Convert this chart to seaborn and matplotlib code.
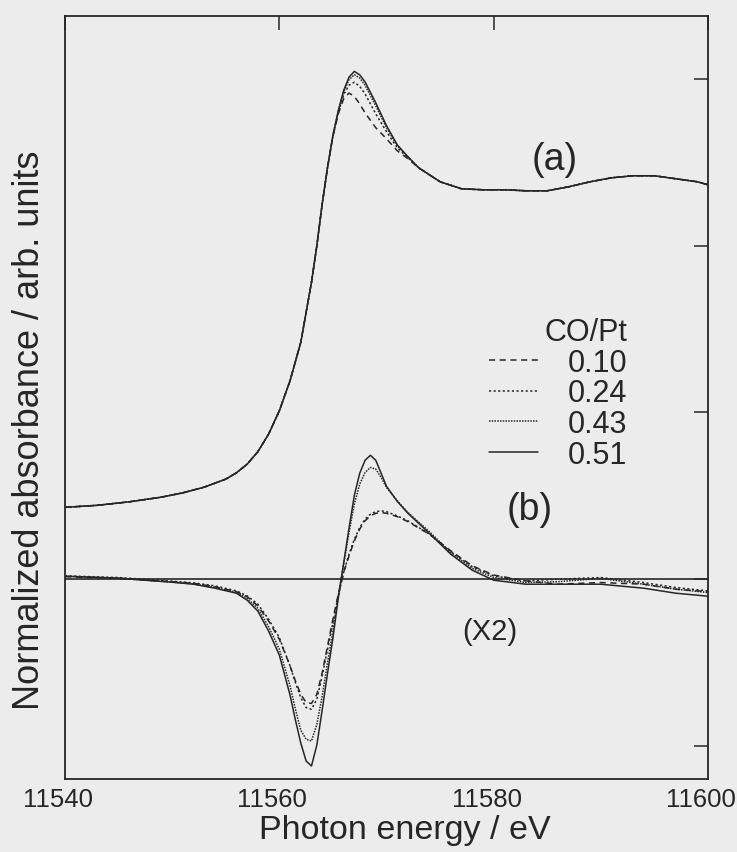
import numpy as np
import pandas as pd
import matplotlib
matplotlib.use("Agg")
import matplotlib.pyplot as plt
import matplotlib.transforms as mtransforms
import seaborn as sns

# ---------------- data ----------------
series_names = ["0.10", "0.24", "0.43", "0.51"]

# (a) normalized absorbance spectra (offset)
energy_a = [11540, 11543, 11546, 11549, 11551, 11553, 11555, 11556, 11557, 11558,
            11559, 11560, 11561, 11562, 11563, 11563.5, 11564, 11564.5, 11565, 11565.5,
            11566, 11566.5, 11567, 11567.5, 11568, 11569, 11570, 11571, 11572, 11573,
            11575, 11577, 11579, 11581, 11583, 11585, 11587, 11589, 11591, 11593,
            11595, 11597, 11599, 11600]

abs_051 = [0.431, 0.443, 0.464, 0.492, 0.518, 0.552, 0.600, 0.638, 0.690, 0.765,
           0.870, 1.010, 1.190, 1.420, 1.780, 2.000, 2.250, 2.470, 2.660, 2.810,
           2.930, 3.010, 3.045, 3.024, 2.982, 2.856, 2.719, 2.605, 2.533, 2.467,
           2.383, 2.341, 2.335, 2.335, 2.329, 2.329, 2.353, 2.383, 2.407, 2.419,
           2.419, 2.401, 2.383, 2.365]
abs_043 = [0.431, 0.443, 0.464, 0.492, 0.518, 0.552, 0.600, 0.638, 0.690, 0.765,
           0.870, 1.010, 1.190, 1.420, 1.780, 2.000, 2.250, 2.470, 2.660, 2.805,
           2.920, 2.995, 3.025, 3.005, 2.962, 2.838, 2.707, 2.599, 2.533, 2.467,
           2.383, 2.341, 2.335, 2.335, 2.329, 2.329, 2.353, 2.383, 2.407, 2.419,
           2.419, 2.401, 2.383, 2.365]
abs_024 = [0.431, 0.443, 0.464, 0.492, 0.518, 0.552, 0.600, 0.638, 0.690, 0.765,
           0.870, 1.010, 1.190, 1.420, 1.780, 2.000, 2.250, 2.470, 2.660, 2.800,
           2.905, 2.962, 2.980, 2.955, 2.910, 2.790, 2.683, 2.587, 2.527, 2.467,
           2.383, 2.341, 2.335, 2.335, 2.329, 2.329, 2.353, 2.383, 2.407, 2.419,
           2.419, 2.401, 2.383, 2.365]
abs_010 = [0.431, 0.443, 0.464, 0.492, 0.518, 0.552, 0.600, 0.638, 0.690, 0.765,
           0.870, 1.010, 1.190, 1.420, 1.780, 2.000, 2.250, 2.470, 2.655, 2.790,
           2.880, 2.915, 2.895, 2.850, 2.796, 2.707, 2.641, 2.569, 2.521, 2.467,
           2.383, 2.341, 2.335, 2.335, 2.329, 2.329, 2.353, 2.383, 2.407, 2.419,
           2.419, 2.401, 2.383, 2.365]

# (b) difference spectra (x2)
energy_b = [11540, 11545, 11550, 11552, 11554, 11556, 11557, 11558, 11559, 11560,
            11561, 11561.5, 11562, 11562.5, 11563, 11563.5, 11564, 11564.5, 11565, 11565.5,
            11566, 11566.5, 11567, 11567.5, 11568, 11568.5, 11569, 11569.5, 11570, 11571,
            11572, 11574, 11576, 11578, 11580, 11583, 11586, 11590, 11594, 11597, 11600]

diff_051 = [0.018, 0.006, -0.018, -0.030, -0.054, -0.084, -0.126, -0.192, -0.311, -0.455,
            -0.695, -0.844, -0.982, -1.090, -1.120, -0.994, -0.784, -0.563, -0.353, -0.114,
            0.096, 0.305, 0.503, 0.635, 0.713, 0.743, 0.713, 0.635, 0.557, 0.467,
            0.395, 0.275, 0.150, 0.054, -0.006, -0.030, -0.030, -0.030, -0.054, -0.084, -0.102]
diff_043 = [0.018, 0.006, -0.018, -0.028, -0.050, -0.078, -0.115, -0.175, -0.285, -0.420,
            -0.640, -0.780, -0.905, -0.960, -0.970, -0.870, -0.700, -0.500, -0.310, -0.100,
            0.090, 0.280, 0.450, 0.570, 0.640, 0.670, 0.660, 0.610, 0.550, 0.470,
            0.400, 0.285, 0.160, 0.065, 0.010, -0.020, -0.015, 0.005, -0.030, -0.060, -0.080]
diff_024 = [0.020, 0.010, -0.012, -0.022, -0.040, -0.070, -0.100, -0.150, -0.240, -0.350,
            -0.520, -0.620, -0.710, -0.770, -0.780, -0.720, -0.580, -0.420, -0.260, -0.100,
            0.040, 0.150, 0.240, 0.310, 0.360, 0.390, 0.405, 0.410, 0.405, 0.380,
            0.350, 0.270, 0.165, 0.075, 0.020, -0.010, 0.000, 0.010, -0.020, -0.050, -0.070]
diff_010 = [0.015, 0.005, -0.015, -0.025, -0.045, -0.075, -0.105, -0.160, -0.250, -0.360,
            -0.520, -0.610, -0.690, -0.740, -0.745, -0.690, -0.560, -0.400, -0.240, -0.090,
            0.040, 0.140, 0.230, 0.300, 0.350, 0.380, 0.395, 0.400, 0.395, 0.375,
            0.345, 0.270, 0.170, 0.080, 0.025, -0.010, -0.030, -0.020, -0.030, -0.060, -0.075]

x_ticks = [11540, 11560, 11580, 11600]
y_ticks = [-1, 0, 1, 2, 3]

# ---------------- long-form tables ----------------
df_a = pd.concat([
    pd.DataFrame({"E": energy_a, "y": v, "CO/Pt": n})
    for n, v in zip(series_names, [abs_010, abs_024, abs_043, abs_051])
])
df_b = pd.concat([
    pd.DataFrame({"E": energy_b, "y": v, "CO/Pt": n})
    for n, v in zip(series_names, [diff_010, diff_024, diff_043, diff_051])
])

# ---------------- style ----------------
sns.set_theme(style="white")
plt.rcParams["font.family"] = ["Liberation Sans", "DejaVu Sans"]
bg = "#ececec"
ink = "#262626"

fig = plt.figure(figsize=(7.37, 8.53), dpi=100, facecolor=bg)
ax = fig.add_axes([65 / 737, 1 - 780 / 853, (708 - 65) / 737, (780 - 17) / 853])
ax.set_facecolor(bg)

dash_map = {"0.10": (4, 3), "0.24": (1.4, 1.6), "0.43": (1, 0.8), "0.51": ""}

sns.lineplot(data=df_a, x="E", y="y", style="CO/Pt", dashes=dash_map,
             color=ink, linewidth=1.1, estimator=None, sort=False,
             legend=False, ax=ax)
sns.lineplot(data=df_b, x="E", y="y", style="CO/Pt", dashes=dash_map,
             color=ink, linewidth=1.1, estimator=None, sort=False,
             legend=True, ax=ax)
ax.axhline(0, color=ink, lw=1.2, zorder=1)

ax.set_xlim(11540, 11600)
ax.set_ylim(-1.198, 3.377)
ax.set_xticks(x_ticks)
ax.set_xticklabels([str(t) for t in x_ticks])
ax.set_yticks(y_ticks)
ax.tick_params(axis="both", direction="in", length=10, width=1.1, color=ink,
               top=True, right=True, labelleft=False, labelsize=18.5,
               labelcolor=ink, pad=6)
shift = mtransforms.ScaledTranslation(-7 / 100, 0, fig.dpi_scale_trans)
for lab in ax.get_xticklabels():
    lab.set_transform(lab.get_transform() + shift)
for s in ax.spines.values():
    s.set_color(ink)
    s.set_linewidth(1.3)

ax.set_xlabel("Photon energy / eV", fontsize=24.5, color=ink)
ax.xaxis.set_label_coords((405 - 65) / 643, (780 - 815) / 763)
ax.set_ylabel("Normalized absorbance / arb. units", fontsize=26, color=ink)
ax.yaxis.set_label_coords((47 - 65) / 643, (780 - 430) / 763)

ax.text(555 / 737, 1 - 160 / 853, "(a)", transform=fig.transFigure, fontsize=27,
        color=ink, ha="center", va="center")
ax.text(530 / 737, 1 - 510 / 853, "(b)", transform=fig.transFigure, fontsize=27,
        color=ink, ha="center", va="center")
ax.text(490 / 737, 1 - 632 / 853, "(X2)", transform=fig.transFigure, fontsize=21,
        color=ink, ha="center", va="center")

sns.move_legend(ax, "upper right", bbox_to_anchor=(643 / 737, 1 - 303 / 853),
                bbox_transform=fig.transFigure, frameon=False, title="CO/Pt",
                fontsize=22, title_fontsize=22, handlelength=1.6,
                handletextpad=1.0, labelspacing=0.02, borderpad=0)
leg = ax.get_legend()
leg._legend_box.align = "right"
for t in leg.get_texts():
    t.set_color(ink)
leg.get_title().set_color(ink)
for h in leg.get_lines():
    h.set_color(ink)
    h.set_linewidth(1.1)

fig.savefig("out.png", dpi=100, facecolor=bg)
